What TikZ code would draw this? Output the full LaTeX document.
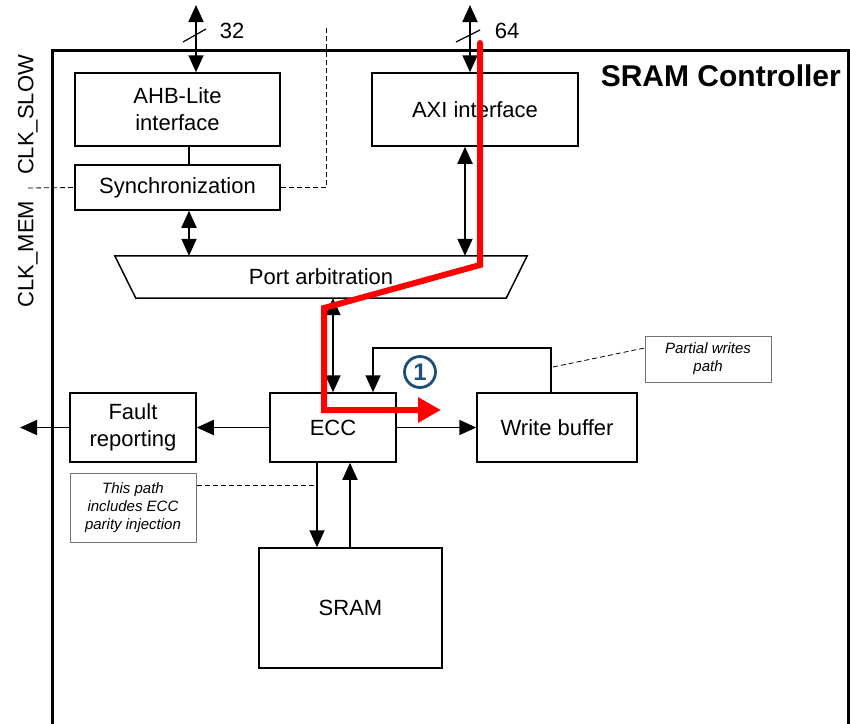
\documentclass[tikz,border=0pt]{standalone}
\usepackage{fontspec}
\setmainfont{Liberation Sans}
\usetikzlibrary{arrows.meta,calc}
\definecolor{numblue}{RGB}{31,78,121}
\begin{document}
\begin{tikzpicture}[x=1pt,y=-1pt,
  >={Triangle[length=17pt,width=15pt]},
  mainfont/.style={font=\fontsize{22}{27}\selectfont},
  box/.style={draw,line width=1.5pt,inner sep=0pt,align=center,mainfont},
  note/.style={draw=black!55,line width=1pt,inner sep=0pt,align=center,font=\fontsize{15}{18}\selectfont\itshape},
  arr/.style={line width=1.8pt,->},
  darr/.style={line width=1.8pt,<->},
  thinline/.style={line width=1.5pt},
  dashline/.style={line width=0.8pt,dash pattern=on 5pt off 3pt}]
\useasboundingbox (0,0) rectangle (850,723);
\clip (0,0) rectangle (850,723);
% frame
\draw[line width=3pt] (52,740) -- (52,50) -- (848,50) -- (848,740);
\node[anchor=east,inner sep=0pt,font=\fontsize{30}{34}\selectfont\bfseries] (title) at (841,76) {SRAM Controller};
% clock labels
\node[rotate=90,inner sep=0pt,mainfont] (clks) at (28,115) {CLK\_SLOW};
\node[rotate=90,inner sep=0pt,mainfont] (clkm) at (28,254) {CLK\_MEM};
% boxes
\node[box,minimum width=205pt,minimum height=73pt] (ahb) at (177.5,109.5) {AHB-Lite\\interface};
\node[box,minimum width=205pt,minimum height=45pt] (sync) at (177.5,187.5) {Synchronization};
\node[box,minimum width=206pt,minimum height=73pt] (axi) at (475,109.5) {AXI interface};
\node[inner sep=0pt,minimum width=370pt,minimum height=42pt,mainfont] (port) at (321,277) {Port arbitration};
\draw[thinline] ([xshift=-21pt]port.north west) -- ([xshift=21pt]port.north east) -- (port.south east) -- (port.south west) -- cycle;
\node[box,minimum width=126pt,minimum height=69pt] (ecc) at (333,427.5) {ECC};
\node[box,minimum width=126pt,minimum height=69pt] (fault) at (133,427.5) {Fault\\reporting};
\node[box,minimum width=160pt,minimum height=69pt] (wb) at (557,427.5) {Write buffer};
\node[box,minimum width=183pt,minimum height=120pt] (sram) at (350.5,608) {SRAM};
\node[note,minimum width=126pt,minimum height=69pt] (enote) at (133,507.5) {This path\\includes ECC\\parity injection};
\node[note,minimum width=126pt,minimum height=46pt] (pnote) at (708,359) {Partial writes\\path};
% bus arrows
\coordinate (t32) at (196,5);
\coordinate (t64) at (470,5);
\draw[darr] (t32) -- (t32 |- ahb.north);
\draw[line width=1.2pt] (183,42) -- (206,29);
\node[mainfont,inner sep=0pt] (l32) at (232,31) {32};
\draw[darr] (t64) -- (t64 |- axi.north);
\draw[line width=1.2pt] (456,42) -- (480,30);
\node[mainfont,inner sep=0pt] (l64) at (507,31) {64};
% clock domain boundary
\coordinate (cl) at (28,188);
\coordinate (ctop) at (326,28);
\draw[dashline] (cl) -- (sync.west);
\draw[dashline] (sync.east) -- (sync.east -| ctop) -- (ctop);
% internal connections
\coordinate (s1) at ([xshift=11.5pt]ahb.south);
\draw[thinline] (s1) -- (s1 |- sync.north);
\coordinate (s2) at ([xshift=11.5pt]sync.south);
\draw[darr] (s2) -- (s2 |- port.north);
\coordinate (a1) at ([xshift=-10pt]axi.south);
\draw[darr] (a1) -- (a1 |- port.north);
\draw[darr] (ecc.north |- port.south) -- (ecc.north);
\coordinate (w1) at ([xshift=-6pt]wb.north);
\coordinate (e1) at ([xshift=40pt]ecc.north);
\coordinate (lp) at (0,348);
\draw[arr] (w1) -- (w1 |- lp) -- (e1 |- lp) -- (e1);
\draw[arr] (ecc.west) -- (fault.east);
\coordinate (out) at (20,427.5);
\draw[arr] (fault.west) -- (out);
\draw[arr] (ecc.east) -- (wb.west);
\coordinate (e2) at ([xshift=-16pt]ecc.south);
\draw[arr] (e2) -- (e2 |- sram.north);
\coordinate (e3) at ([xshift=17pt]ecc.south);
\draw[arr] (e3 |- sram.north) -- (e3);
% note leaders
\coordinate (n1) at ([yshift=22.5pt]enote.east);
\draw[dashline] (n1) -- (n1 -| e2);
\coordinate (n2) at ([yshift=11pt]pnote.west);
\coordinate (n3) at (553,367);
\draw[dashline] (n3) -- (n2);
% number marker
\node[circle,draw=numblue,line width=2.8pt,minimum size=31pt,inner sep=0pt,text=numblue,font=\fontsize{24}{24}\selectfont\bfseries] (one) at (420,372) {1};
% red path
\coordinate (r0) at (480,43);
\coordinate (r1) at (480,265);
\coordinate (r2) at (324,308);
\coordinate (r3) at (324,410);
\coordinate (r4) at (441,410);
\draw[red,line width=6pt,line cap=round,line join=miter,-{Triangle[length=23pt,width=24pt]}] (r0) -- (r1) -- (r2) -- (r3) -- (r4);
\end{tikzpicture}
\end{document}
